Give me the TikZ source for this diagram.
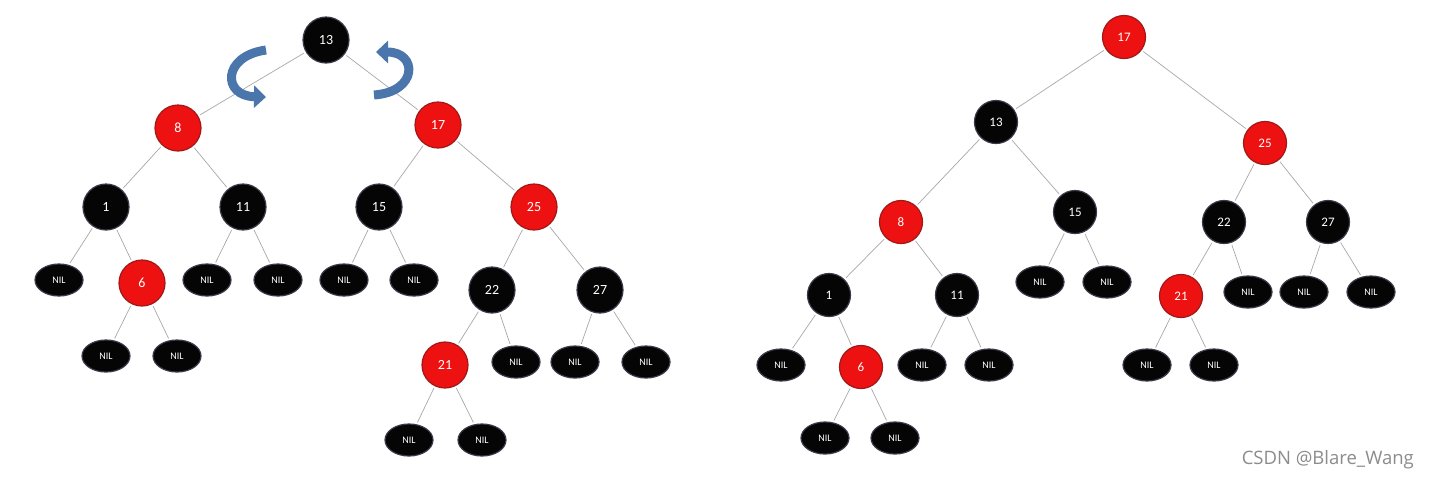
\documentclass[tikz,border=0pt]{standalone}
\usepackage{fontspec}
\setmainfont{Carlito}
\newfontfamily\wmfont{Open Sans}
\usetikzlibrary{arrows.meta}
\definecolor{rbred}{HTML}{EE1111}
\definecolor{rbredb}{HTML}{A01818}
\definecolor{rbblk}{HTML}{050505}
\definecolor{rbblkb}{HTML}{3A3A4A}
\definecolor{rotblue}{HTML}{4A76AC}
\definecolor{edgegray}{HTML}{A8A8A8}
\tikzset{
  bnode/.style={circle, fill=rbblk, draw=rbblkb, line width=1.2pt, minimum size=46pt, inner sep=0pt, text=white, font=\fontsize{14}{14}\selectfont},
  rnode/.style={circle, fill=rbred, draw=rbredb, line width=1.2pt, minimum size=46pt, inner sep=0pt, text=white, font=\fontsize{14}{14}\selectfont},
  bsnode/.style={bnode, minimum size=43pt, font=\fontsize{13}{13}\selectfont},
  rsnode/.style={rnode, minimum size=43pt, font=\fontsize{13}{13}\selectfont},
  nilnode/.style={ellipse, fill=rbblk, draw=rbblkb, line width=1.2pt, minimum width=48pt, minimum height=32pt, inner sep=0pt, text=white, font=\fontsize{10}{10}\selectfont},
  edge/.style={draw=edgegray, line width=0.7pt, shorten <=2pt, shorten >=2pt},
  rot/.style={draw=rotblue, line width=9pt, -{Triangle[width=22pt,length=12pt]}}
}
\usetikzlibrary{shapes.geometric}
\begin{document}
\begin{tikzpicture}[x=1pt,y=-1pt]
\useasboundingbox[fill=white] (0,0) rectangle (1429,480);
% ---------- left tree ----------
\node[bnode] (L13) at (326,40) {13};
\node[rnode] (L8) at (178,128) {8};
\node[rnode] (L17) at (438,125) {17};
\node[bnode] (L1) at (106,207) {1};
\node[bnode] (L11) at (243,207) {11};
\node[bnode] (L15) at (379,207) {15};
\node[rnode] (L25) at (534,207) {25};
\node[nilnode] (Ln1) at (59,280) {NIL};
\node[rnode] (L6) at (142,283) {6};
\node[nilnode] (Ln2) at (207,280) {NIL};
\node[nilnode] (Ln3) at (278,280) {NIL};
\node[nilnode] (Ln4) at (344,280) {NIL};
\node[nilnode] (Ln5) at (414,280) {NIL};
\node[bnode] (L22) at (492,290) {22};
\node[bnode] (L27) at (600,290) {27};
\node[nilnode] (Ln6) at (106,356) {NIL};
\node[nilnode] (Ln7) at (177,356) {NIL};
\node[rnode] (L21) at (445,365) {21};
\node[nilnode] (Ln8) at (516,362) {NIL};
\node[nilnode] (Ln9) at (575,362) {NIL};
\node[nilnode] (Ln10) at (646,362) {NIL};
\node[nilnode] (Ln11) at (409,440) {NIL};
\node[nilnode] (Ln12) at (482,440) {NIL};
\foreach \a/\b in {L13/L8,L13/L17,L8/L1,L8/L11,L17/L15,L17/L25,L1/Ln1,L1/L6,L11/Ln2,L11/Ln3,L15/Ln4,L15/Ln5,L25/L22,L25/L27,L6/Ln6,L6/Ln7,L22/L21,L22/Ln8,L27/Ln9,L27/Ln10,L21/Ln11,L21/Ln12}
  \path[edge] (\a) -- (\b);
% rotation arrows
\coordinate (ra1) at (266,50);
\coordinate (ra2) at (266,97);
\coordinate (rb1) at (374,95);
\coordinate (rb2) at (376,52);
\draw[rot] (ra1) .. controls (222,56) and (222,96) .. (ra2);
\draw[rot] (rb1) .. controls (418,92) and (418,52) .. (rb2);
% ---------- right tree ----------
\node[rsnode] (R17) at (1124,37) {17};
\node[bsnode] (R13) at (996,122) {13};
\node[rsnode] (R25) at (1265,143) {25};
\node[rsnode] (R8) at (901,222) {8};
\node[bsnode] (R15) at (1075,212) {15};
\node[bsnode] (R22) at (1224,222) {22};
\node[bsnode] (R27) at (1328,222) {27};
\node[nilnode] (Rn1) at (1040,282) {NIL};
\node[nilnode] (Rn2) at (1107,282) {NIL};
\node[rsnode] (R21) at (1181,296) {21};
\node[nilnode] (Rn3) at (1248,292) {NIL};
\node[nilnode] (Rn4) at (1304,292) {NIL};
\node[nilnode] (Rn5) at (1371,292) {NIL};
\node[bsnode] (R1) at (829,295) {1};
\node[bsnode] (R11) at (957,295) {11};
\node[nilnode] (Rn6) at (781,365) {NIL};
\node[rsnode] (R6) at (861,367) {6};
\node[nilnode] (Rn7) at (922,365) {NIL};
\node[nilnode] (Rn8) at (989,365) {NIL};
\node[nilnode] (Rn9) at (1147,365) {NIL};
\node[nilnode] (Rn10) at (1214,365) {NIL};
\node[nilnode] (Rn11) at (825,438) {NIL};
\node[nilnode] (Rn12) at (895,438) {NIL};
\foreach \a/\b in {R17/R13,R17/R25,R13/R8,R13/R15,R25/R22,R25/R27,R15/Rn1,R15/Rn2,R22/R21,R22/Rn3,R27/Rn4,R27/Rn5,R8/R1,R8/R11,R1/Rn6,R1/R6,R11/Rn7,R11/Rn8,R21/Rn9,R21/Rn10,R6/Rn11,R6/Rn12}
  \path[edge] (\a) -- (\b);
% watermark
\node[anchor=east, text=black!45, font=\wmfont\fontsize{18.5}{18.5}\selectfont, inner sep=0pt] (wm) at (1414,460) {CSDN @Blare\_Wang};
\end{tikzpicture}
\end{document}
